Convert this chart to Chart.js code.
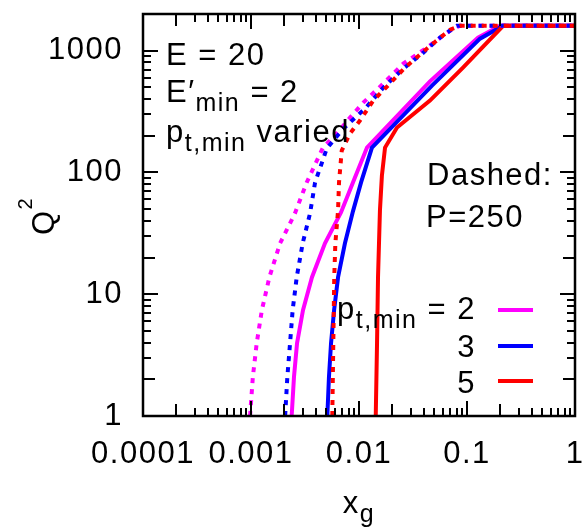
<!DOCTYPE html>
<html>
<head>
<meta charset="utf-8">
<script src="https://cdn.jsdelivr.net/npm/chart.js@4.4.1/dist/chart.umd.min.js"></script>
<style>
  html, body { margin: 0; padding: 0; background: #fff; }
  canvas { display: block; }
</style>
</head>
<body>
<canvas id="q2Chart" width="585" height="529"></canvas>
<script>
const FONT = '"Liberation Sans", Arial, Helvetica, sans-serif';

// axis ticks
const xTickValues = [0.0001, 0.001, 0.01, 0.1, 1];
const xTickLabels = ['0.0001', '0.001', '0.01', '0.1', '1'];
const yTickValues = [1, 10, 100, 1000];
const yTickLabels = ['1', '10', '100', '1000'];

const ptMinValues = ['2', '3', '5'];
const colors = ['#ff00ff', '#0000ff', '#ff0000'];

// solid curves (default P)
const xgSolid2 = [0.00238, 0.0025, 0.00267, 0.00303, 0.00367, 0.00484, 0.00681, 0.00879, 0.01186, 0.0454, 0.1264, 0.202, 1];
const q2Solid2 = [1, 2.09, 3.97, 7.39, 13.8, 26.2, 47, 82.8, 160, 560, 1278, 1600, 1600];
const xgSolid3 = [0.00509, 0.00527, 0.00551, 0.00588, 0.0064, 0.00741, 0.00879, 0.01045, 0.01318, 0.0474, 0.132, 0.215, 1];
const q2Solid3 = [1, 2.09, 3.97, 7.39, 13.8, 26.2, 47.9, 82.8, 160, 517, 1254, 1600, 1600];
const xgSolid5 = [0.01429, 0.01469, 0.0150, 0.01563, 0.0163, 0.01742, 0.0225, 0.0454, 0.0918, 0.216, 1];
const q2Solid5 = [1, 3.97, 13.8, 48.8, 94.5, 160, 234, 389, 726, 1600, 1600];

// dashed curves (P = 250)
const xgDash2 = [0.00098, 0.00104, 0.00113, 0.00126, 0.00148, 0.00186, 0.00255, 0.00328, 0.00464, 0.00622, 0.00826, 0.01096, 0.0168, 0.0257, 0.0424, 0.0697, 0.0861, 1];
const q2Dash2 = [1, 2.09, 3.97, 7.39, 13.8, 26.2, 46.1, 82.8, 160, 209, 282, 375, 537, 782, 1059, 1459, 1600, 1600];
const xgDash3 = [0.00207, 0.00217, 0.0023, 0.00243, 0.00265, 0.00301, 0.00352, 0.00392, 0.00503, 0.00716, 0.01138, 0.0168, 0.0257, 0.0394, 0.0562, 0.0804, 1];
const q2Dash3 = [1, 2.09, 3.97, 7.39, 13.8, 26.2, 46.1, 82.8, 157, 229, 335, 497, 712, 963, 1278, 1600, 1600];
const xgDash5 = [0.00566, 0.00578, 0.0059, 0.00604, 0.0064, 0.00653, 0.00692, 0.00826, 0.01021, 0.01355, 0.01742, 0.0267, 0.0424, 0.0697, 0.0861, 1];
const q2Dash5 = [1, 3.97, 13.8, 26.2, 48.8, 82.8, 151, 209, 267, 389, 488, 726, 1038, 1486, 1600, 1600];

const toPoints = (xs, ys) => xs.map((x, i) => ({ x: x, y: ys[i] }));

function lineSet(label, xs, ys, color, dashed) {
    return {
        label: label,
        data: toPoints(xs, ys),
        borderColor: color,
        borderWidth: 4,
        borderDash: dashed ? [5, 6] : [],
        borderCapStyle: 'butt',
        pointRadius: 0,
        tension: 0,
        showLine: true
    };
}

// draws text runs with sub/superscripts: kind 0 normal, -1 sub, 1 sup
function drawRich(ctx, x, y, parts, align) {
    const runs = parts.map(([t, k]) => {
        const size = k === 0 ? 31 : (k < 0 ? 25 : 20);
        ctx.font = size + 'px ' + FONT;
        return { t, size, dy: k < 0 ? 9 : (k > 0 ? -22 : 0), w: ctx.measureText(t).width };
    });
    const total = runs.reduce((s, r) => s + r.w, 0);
    let cx = align === 'right' ? x - total : (align === 'center' ? x - total / 2 : x);
    ctx.textAlign = 'left';
    ctx.textBaseline = 'alphabetic';
    runs.forEach(r => {
        ctx.font = r.size + 'px ' + FONT;
        ctx.fillText(r.t, cx, y + r.dy);
        cx += r.w;
    });
}

function tickLength(v) {
    const m = v / Math.pow(10, Math.floor(Math.log10(v) + 1e-9));
    if (Math.abs(m - 1) < 1e-6) return 15;
    if (Math.abs(m - 2) < 1e-6) return 12;
    return 8;
}

const framePlugin = {
    id: 'gnuplotFrame',
    beforeDraw(chart) {
        chart.ctx.letterSpacing = '1.5px';
    },
    afterDatasetsDraw(chart) {
        const ctx = chart.ctx;
        const { left, right, top, bottom } = chart.chartArea;
        const xs = chart.scales.x, ys = chart.scales.y;
        ctx.save();
        ctx.strokeStyle = '#000';
        ctx.lineWidth = 2;
        ctx.beginPath();
        for (let e = -4; e <= 0; e++) {
            for (let m = 1; m <= 9; m++) {
                const v = m * Math.pow(10, e);
                if (v > 1.0001) continue;
                const px = Math.round(xs.getPixelForValue(v));
                const len = tickLength(v);
                ctx.moveTo(px, bottom); ctx.lineTo(px, bottom - len);
                ctx.moveTo(px, top); ctx.lineTo(px, top + len);
            }
        }
        for (let e = 0; e <= 3; e++) {
            for (let m = 1; m <= 9; m++) {
                const v = m * Math.pow(10, e);
                if (v >= 2000) continue;
                const py = Math.round(ys.getPixelForValue(v));
                const len = tickLength(v);
                ctx.moveTo(left, py); ctx.lineTo(left + len, py);
                ctx.moveTo(right, py); ctx.lineTo(right - len, py);
            }
        }
        ctx.stroke();
        ctx.lineWidth = 2.5;
        ctx.strokeRect(left, top, right - left, bottom - top);

        ctx.fillStyle = '#000';
        drawRich(ctx, 166, 65, [['E = 20', 0]]);
        drawRich(ctx, 166, 102, [['E\u2032', 0], ['min', -1], [' = 2', 0]]);
        drawRich(ctx, 166, 142, [['p', 0], ['t,min', -1], [' varied', 0]]);
        drawRich(ctx, 427, 185, [['Dashed:', 0]]);
        drawRich(ctx, 426, 227, [['P=250', 0]]);

        // key
        const keyY = [319, 357, 393];
        const lineY = [310, 346, 381];
        ptMinValues.forEach((p, i) => {
            const parts = i === 0 ? [['p', 0], ['t,min', -1], [' = ' + p, 0]] : [[p, 0]];
            ctx.fillStyle = '#000';
            drawRich(ctx, 476, keyY[i], parts, 'right');
            ctx.strokeStyle = colors[i];
            ctx.lineWidth = 4;
            ctx.beginPath();
            ctx.moveTo(498, lineY[i]);
            ctx.lineTo(533, lineY[i]);
            ctx.stroke();
        });

        // axis titles
        ctx.fillStyle = '#000';
        drawRich(ctx, 359, 513, [['x', 0], ['g', -1]], 'center');
        ctx.translate(54, 216);
        ctx.rotate(-Math.PI / 2);
        drawRich(ctx, 0, 0, [['Q', 0], ['2', 1]], 'center');
        ctx.restore();
    }
};

const tickFont = { family: FONT, size: 31 };

new Chart(document.getElementById('q2Chart'), {
    type: 'scatter',
    data: {
        datasets: [
            lineSet('P=250, pt,min=5', xgDash5, q2Dash5, colors[2], true),
            lineSet('P=250, pt,min=3', xgDash3, q2Dash3, colors[1], true),
            lineSet('P=250, pt,min=2', xgDash2, q2Dash2, colors[0], true),
            lineSet('pt,min=5', xgSolid5, q2Solid5, colors[2], false),
            lineSet('pt,min=3', xgSolid3, q2Solid3, colors[1], false),
            lineSet('pt,min=2', xgSolid2, q2Solid2, colors[0], false)
        ]
    },
    options: {
        responsive: false,
        animation: false,
        devicePixelRatio: 1,
        layout: { padding: { top: 14, right: 10, bottom: 0, left: 0 } },
        plugins: {
            legend: { display: false },
            tooltip: { enabled: false }
        },
        scales: {
            x: {
                type: 'logarithmic',
                position: 'bottom',
                min: 0.0001,
                max: 1,
                grid: { display: false, drawTicks: false },
                border: { display: false },
                ticks: {
                    font: tickFont,
                    color: '#000',
                    padding: 20,
                    maxRotation: 0,
                    autoSkip: false,
                    callback: (v) => xTickLabels[xTickValues.findIndex(t => Math.abs(t - v) / t < 1e-6)] ?? ''
                },
                afterBuildTicks: (axis) => { axis.ticks = xTickValues.map(v => ({ value: v })); },
                afterFit: (axis) => { axis.height = 113; axis.paddingLeft = 0; axis.paddingRight = 0; }
            },
            y: {
                type: 'logarithmic',
                position: 'left',
                min: 1,
                max: 2000,
                grid: { display: false, drawTicks: false },
                border: { display: false },
                ticks: {
                    font: tickFont,
                    color: '#000',
                    padding: 20,
                    autoSkip: false,
                    callback: (v) => yTickLabels[yTickValues.findIndex(t => Math.abs(t - v) / t < 1e-6)] ?? ''
                },
                afterBuildTicks: (axis) => { axis.ticks = yTickValues.map(v => ({ value: v })); },
                afterFit: (axis) => { axis.width = 143; axis.paddingTop = 0; axis.paddingBottom = 0; }
            }
        }
    },
    plugins: [framePlugin]
});
</script>
</body>
</html>
